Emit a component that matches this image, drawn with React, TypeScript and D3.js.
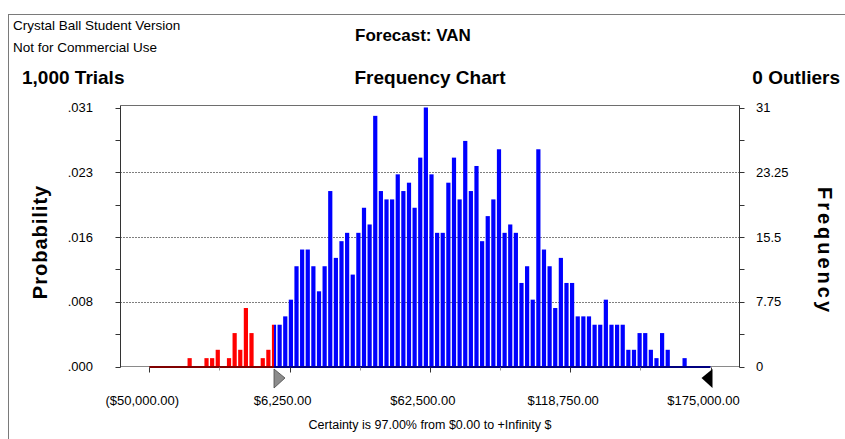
import React from 'react';
import * as d3 from 'd3';

// ---- data ----
const FIRST_BIN = -15;
const BIN_WIDTH = 2255;
const counts = [
  1, 0, 0, 1, 1, 2, 0, 1, 4, 2, 7, 4, 0, 1, 2,
  5, 5, 6, 8, 12, 14, 14, 12, 9, 12,
  21, 13, 15, 16, 11, 16, 19, 17, 30, 21,
  20, 20, 23, 21, 22, 19, 25, 31, 23, 16,
  16, 22, 25, 20, 27, 21, 24, 15, 18, 20,
  26, 16, 17, 16, 10, 12, 8, 26, 14, 12,
  7, 13, 10, 10, 6, 6, 6, 5, 5, 8,
  5, 5, 5, 2, 2, 4, 4, 2, 1, 4,
  2, 0, 0, 1,
];
const xTicks = [-50000, 6250, 62500, 118750, 175000];
const xTickLabels = ['($50,000.00)', '$6,250.00', '$62,500.00', '$118,750.00', '$175,000.00'];
const yTicks = [0, 7.75, 15.5, 23.25, 31];
const probLabels = ['.000', '.008', '.016', '.023', '.031'];
const freqLabels = ['0', '7.75', '15.5', '23.25', '31'];
const certaintyFrom = 0;
const trials = '1,000 Trials';
const outliers = '0 Outliers';
const certaintyText = 'Certainty is 97.00% from $0.00 to +Infinity $';

const W = 845;
const H = 439;
const FONT = '"Liberation Sans", Arial, sans-serif';

export default function App() {
  const left = 120.5;
  const right = 739.5;
  const top = 105.5;
  const y0 = 366.5;

  const x = d3.scaleLinear().domain([xTicks[0], xTicks[xTicks.length - 1]]).range([149.3, 710.5]);
  const y = d3.scaleLinear().domain([0, 31]).range([y0, 107.5]);

  const bins = counts.map((c, i) => ({ center: (FIRST_BIN + i) * BIN_WIDTH, count: c }));
  const minorY = d3.range(0, 31.0001, 3.875);
  const minorX = d3.range(xTicks[0] + 28125, xTicks[xTicks.length - 1], 56250);
  const bw = 4.2;
  const xc = x(certaintyFrom);
  const xEnd = x(xTicks[xTicks.length - 1]);

  const barRects = (fill: string) =>
    bins.filter(b => b.count > 0).map((b, i) => (
      <rect key={i} x={x(b.center) - bw / 2} y={y(b.count)} width={bw} height={y0 - y(b.count)} fill={fill} />
    ));

  return (
    <svg width={W} height={H} style={{ position: 'absolute', left: 0, top: 0, background: '#fff' }} fontFamily={FONT}>
      <defs>
        <clipPath id="redclip"><rect x={0} y={0} width={xc} height={H} /></clipPath>
        <clipPath id="blueclip"><rect x={xc} y={0} width={W} height={H} /></clipPath>
      </defs>
      <rect x={0} y={0} width={W} height={H} fill="#fff" />
      {/* outer window frame */}
      <rect x={8.5} y={14.5} width={W + 20} height={H + 20} fill="none" stroke="#7a7a7a" strokeWidth={1} />

      {/* header texts */}
      <text x={13} y={30} fontSize={13.5} fill="#000">Crystal Ball Student Version</text>
      <text x={13} y={52} fontSize={13.5} fill="#000">Not for Commercial Use</text>
      <text x={355} y={41} fontSize={17} fontWeight="bold" fill="#000">Forecast: VAN</text>
      <text x={22} y={84} fontSize={19} fontWeight="bold" fill="#000">{trials}</text>
      <text x={(left + right) / 2} y={84} fontSize={19} fontWeight="bold" textAnchor="middle" fill="#000">Frequency Chart</text>
      <text x={840} y={84} fontSize={19} fontWeight="bold" textAnchor="end" fill="#000">{outliers}</text>

      {/* gridlines */}
      {yTicks.slice(1, -1).map((t, i) => (
        <line key={i} x1={left} x2={right} y1={Math.round(y(t)) + 0.5} y2={Math.round(y(t)) + 0.5} stroke="#000" strokeWidth={1.1} strokeDasharray="1,2" />
      ))}

      {/* bars */}
      <g clipPath="url(#blueclip)">{barRects('#0000ff')}</g>
      <g clipPath="url(#redclip)">{barRects('#ff0000')}</g>

      {/* baseline */}
      <line x1={left} x2={right} y1={y0} y2={y0} stroke="#8a8a8a" />
      <line x1={x(xTicks[0])} x2={xc} y1={y0 + 0.5} y2={y0 + 0.5} stroke="#800000" strokeWidth={2} />
      <line x1={xc} x2={xEnd} y1={y0 + 0.5} y2={y0 + 0.5} stroke="#000080" strokeWidth={2} />

      {/* frame */}
      <line x1={left} x2={right} y1={top} y2={top} stroke="#6e6e6e" />
      <line x1={left} x2={left} y1={top} y2={y0 + 1} stroke="#333" />
      <line x1={right} x2={right} y1={top} y2={y0 + 1} stroke="#333" />

      {/* y ticks */}
      {minorY.map((t, i) => (
        <g key={i}>
          <line x1={left - 5} x2={left} y1={Math.round(y(t)) + 0.5} y2={Math.round(y(t)) + 0.5} stroke="#333" />
          <line x1={right} x2={right + 5} y1={Math.round(y(t)) + 0.5} y2={Math.round(y(t)) + 0.5} stroke="#333" />
        </g>
      ))}
      {yTicks.map((t, i) => (
        <g key={i}>
          <text x={93} y={y(t) + 4.5} fontSize={13} textAnchor="end" fill="#000">{probLabels[i]}</text>
          <text x={756} y={y(t) + 4.5} fontSize={13} fill="#000">{freqLabels[i]}</text>
        </g>
      ))}

      {/* x ticks */}
      {xTicks.map((t, i) => (
        <g key={i}>
          <line x1={Math.round(x(t)) + 0.5} x2={Math.round(x(t)) + 0.5} y1={y0 + 1} y2={y0 + 6} stroke="#333" />
          <text x={x(t) - 7} y={405} fontSize={13} textAnchor="middle" fill="#000">{xTickLabels[i]}</text>
        </g>
      ))}
      {minorX.map((t, i) => (
        <line key={i} x1={Math.round(x(t)) + 0.5} x2={Math.round(x(t)) + 0.5} y1={y0 + 1} y2={y0 + 4} stroke="#999" />
      ))}

      {/* certainty markers */}
      <path d={`M${xc},369 L${xc + 11},378 L${xc},388 Z`} fill="#8c8c8c" stroke="#4a4a4a" strokeWidth={0.8} />
      <path d={`M${xEnd + 2},369 L${xEnd - 9},378 L${xEnd + 2},388 Z`} fill="#000" />

      <text x={(left + right) / 2} y={429} fontSize={12.5} textAnchor="middle" fill="#000">{certaintyText}</text>

      {/* axis titles */}
      <text transform={`translate(47,242) rotate(-90)`} fontSize={20} fontWeight="bold" letterSpacing={1} textAnchor="middle" fill="#000">Probability</text>
      <text transform={`translate(818,251) rotate(90)`} fontSize={20} fontWeight="bold" letterSpacing={3} textAnchor="middle" fill="#000">Frequency</text>
    </svg>
  );
}
